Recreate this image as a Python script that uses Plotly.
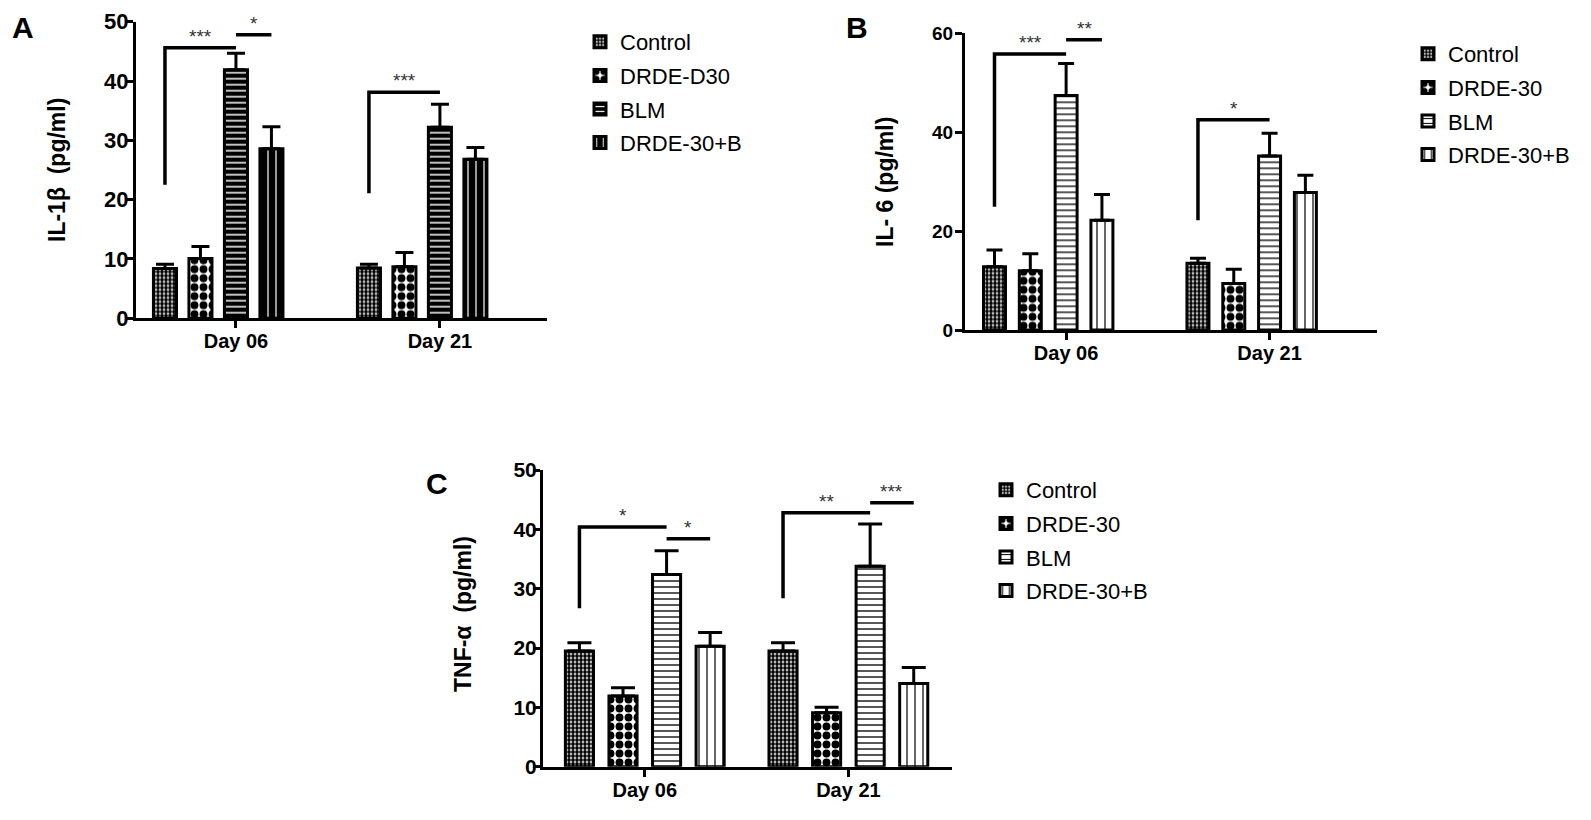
import plotly.graph_objects as go

# ---------------- data ----------------
days = ["Day 06", "Day 21"]
groups_a = ["Control", "DRDE-D30", "BLM", "DRDE-30+B"]
groups_bc = ["Control", "DRDE-30", "BLM", "DRDE-30+B"]

# Panel A : IL-1beta (pg/ml)
il1b_control = [8.4, 8.5]
il1b_drde = [10.1, 8.7]
il1b_blm = [41.9, 32.2]
il1b_drdeb = [28.6, 26.8]
il1b_control_err = [0.7, 0.6]
il1b_drde_err = [2.0, 2.4]
il1b_blm_err = [2.8, 3.9]
il1b_drdeb_err = [3.7, 2.0]

# Panel B : IL-6 (pg/ml)
il6_control = [12.8, 13.5]
il6_drde = [12.0, 9.4]
il6_blm = [47.4, 35.2]
il6_drdeb = [22.2, 27.8]
il6_control_err = [3.4, 1.0]
il6_drde_err = [3.4, 2.9]
il6_blm_err = [6.5, 4.6]
il6_drdeb_err = [5.2, 3.5]

# Panel C : TNF-alpha (pg/ml)
tnf_control = [19.5, 19.5]
tnf_drde = [11.9, 9.1]
tnf_blm = [32.4, 33.8]
tnf_drdeb = [20.3, 14.0]
tnf_control_err = [1.4, 1.4]
tnf_drde_err = [1.4, 0.9]
tnf_blm_err = [4.0, 7.1]
tnf_drdeb_err = [2.3, 2.7]

# significance marks: (label, day index, from group, to group, leg bottom or None, line level)
sig_a = [("***", 0, 0, 2, 22.5, 45.6), ("*", 0, 2, 3, None, 47.8),
         ("***", 1, 0, 2, 21.1, 38.1)]
sig_b = [("***", 0, 0, 2, 24.9, 55.8), ("**", 0, 2, 3, None, 58.7),
         ("*", 1, 0, 2, 22.2, 42.5)]
sig_c = [("*", 0, 0, 2, 26.7, 40.4), ("*", 0, 2, 3, None, 38.4),
         ("**", 1, 0, 2, 28.4, 42.8), ("***", 1, 2, 3, None, 44.5)]

# ---------------- styling ----------------
FONT = "Arial, Liberation Sans, sans-serif"
W, H = 1591, 820

pat_dark = [
    dict(shape=".", fgcolor="black", bgcolor="white", size=4, solidity=0.7, fgopacity=1),
    dict(shape=".", fgcolor="black", bgcolor="white", size=9, solidity=0.6, fgopacity=1),
    dict(shape="-", fgcolor="white", bgcolor="black", size=6, solidity=0.25, fgopacity=1),
    dict(shape="|", fgcolor="white", bgcolor="black", size=8, solidity=0.15, fgopacity=1),
]
pat_light = [
    dict(shape=".", fgcolor="black", bgcolor="white", size=4, solidity=0.7, fgopacity=1),
    dict(shape=".", fgcolor="black", bgcolor="white", size=9, solidity=0.6, fgopacity=1),
    dict(shape="-", fgcolor="black", bgcolor="white", size=6, solidity=0.22, fgopacity=1),
    dict(shape="|", fgcolor="black", bgcolor="white", size=8, solidity=0.15, fgopacity=1),
]

panels = [
    dict(name="A", ax="", groups=groups_a,
         means=[il1b_control, il1b_drde, il1b_blm, il1b_drdeb],
         errs=[il1b_control_err, il1b_drde_err, il1b_blm_err, il1b_drdeb_err],
         sig=sig_a, pats=pat_dark, centers=[-0.348, -0.174, 0.0, 0.174], width=0.113,
         cap=9, px=(136, 547), py=(21.7, 318.3), xr=[-0.49, 1.525], yr=[0, 50], dt=10,
         tfs=22, ystand=-7, legend="legend", title="IL-1β  (pg/ml)", tpos=(57, 170),
         lpos=(23, 27)),
    dict(name="B", ax="2", groups=groups_bc,
         means=[il6_control, il6_drde, il6_blm, il6_drdeb],
         errs=[il6_control_err, il6_drde_err, il6_blm_err, il6_drdeb_err],
         sig=sig_b, pats=pat_light, centers=[-0.352, -0.176, 0.0, 0.176], width=0.108,
         cap=8, px=(965, 1377), py=(33.3, 330), xr=[-0.497, 1.528], yr=[0, 60], dt=20,
         tfs=19, ystand=-2, legend="legend2", title="IL- 6 (pg/ml)", tpos=(885, 182),
         lpos=(857, 27)),
    dict(name="C", ax="3", groups=groups_bc,
         means=[tnf_control, tnf_drde, tnf_blm, tnf_drdeb],
         errs=[tnf_control_err, tnf_drde_err, tnf_blm_err, tnf_drdeb_err],
         sig=sig_c, pats=pat_light, centers=[-0.321, -0.107, 0.107, 0.321], width=0.138,
         cap=12, px=(543, 952), py=(470, 766.7), xr=[-0.5, 1.509], yr=[0, 50], dt=10,
         tfs=21, ystand=-8, legend="legend3", title="TNF-α  (pg/ml)", tpos=(463, 614),
         lpos=(437, 483)),
]

fig = go.Figure()
annotations = []
layout = {}
xpos = list(range(len(days)))

for p in panels:
    xa, ya = "x" + p["ax"], "y" + p["ax"]
    for gi, g in enumerate(p["groups"]):
        fig.add_trace(go.Bar(
            x=xpos, y=p["means"][gi], name=g, xaxis=xa, yaxis=ya,
            offset=p["centers"][gi] - p["width"] / 2, width=p["width"],
            marker=dict(color="white", line=dict(color="black", width=3),
                        pattern=p["pats"][gi]),
            error_y=dict(type="data", array=p["errs"][gi], arrayminus=[0] * len(days),
                         symmetric=False, color="black", thickness=3, width=p["cap"]),
            legend=p["legend"], legendgroup=p["name"] + g, showlegend=True,
        ))
    for lab, d, g0, g1, leg, lvl in p["sig"]:
        x0 = d + p["centers"][g0]
        x1 = d + p["centers"][g1]
        if leg is None:
            xs, ys = [x0, x1], [lvl, lvl]
        else:
            xs, ys = [x0, x0, x1], [leg, lvl, lvl]
        fig.add_trace(go.Scatter(x=xs, y=ys, mode="lines", xaxis=xa, yaxis=ya,
                                 line=dict(color="black", width=3.5), showlegend=False,
                                 hoverinfo="skip", cliponaxis=False))
        annotations.append(dict(x=(x0 + x1) / 2, y=lvl, xref=xa, yref=ya, text=lab,
                                showarrow=False, yanchor="bottom", yshift=-1,
                                font=dict(family=FONT, size=19, color="#333333")))
    # axes
    x0p, x1p = p["px"]
    y0p, y1p = p["py"]
    xkey = "xaxis" + p["ax"]
    ykey = "yaxis" + p["ax"]
    layout[xkey] = dict(domain=[x0p / W, x1p / W], anchor=ya, range=p["xr"],
                        tickvals=xpos, ticktext=days, showline=True, linewidth=3,
                        linecolor="black", ticks="outside", ticklen=7, tickwidth=3,
                        tickcolor="black", showgrid=False, zeroline=False,
                        automargin=False, ticklabelstandoff=-4,
                        tickfont=dict(family=FONT, size=20, color="black", weight="bold"))
    layout[ykey] = dict(domain=[1 - y1p / H, 1 - y0p / H], anchor=xa, range=p["yr"],
                        dtick=p["dt"], showline=True, linewidth=3, linecolor="black",
                        ticks="outside", ticklen=7, tickwidth=3, tickcolor="black",
                        showgrid=False, zeroline=False, automargin=False,
                        ticklabelstandoff=p["ystand"],
                        tickfont=dict(family=FONT, size=p["tfs"], color="black",
                                      weight="bold"))
    annotations.append(dict(x=p["tpos"][0] / W, y=1 - p["tpos"][1] / H, xref="paper",
                            yref="paper", text=p["title"], textangle=-90, showarrow=False,
                            xanchor="center", yanchor="middle",
                            font=dict(family=FONT, size=23, color="black", weight="bold")))
    annotations.append(dict(x=p["lpos"][0] / W, y=1 - p["lpos"][1] / H, xref="paper",
                            yref="paper", text=p["name"], showarrow=False,
                            xanchor="center", yanchor="middle",
                            font=dict(family=FONT, size=30, color="black", weight="bold")))

leg_common = dict(font=dict(family=FONT, size=22, color="black"), bgcolor="rgba(0,0,0,0)",
                  xanchor="left", yanchor="top", traceorder="grouped", itemwidth=30,
                  tracegroupgap=2)
layout["legend"] = dict(x=580 / W, y=1 - 21 / H, **leg_common)
layout["legend2"] = dict(x=1408 / W, y=1 - 33 / H, **leg_common)
layout["legend3"] = dict(x=986 / W, y=1 - 469 / H, **leg_common)

fig.update_layout(width=W, height=H,
                  margin=dict(l=0, r=0, t=0, b=0, autoexpand=False),
                  paper_bgcolor="white", plot_bgcolor="white", barmode="overlay",
                  annotations=annotations, **layout)

fig.write_html("out.html", config={"displayModeBar": False},
               post_script="document.body.style.margin='0px';")
